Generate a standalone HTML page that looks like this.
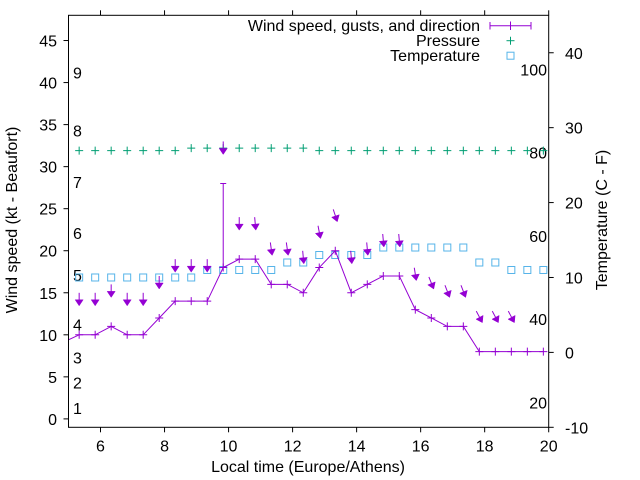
<!DOCTYPE html>
<html><head><meta charset="utf-8">
<style>
html,body{margin:0;padding:0;background:#fff;}
svg{display:block;font-family:"Liberation Sans",sans-serif;}
</style></head>
<body>
<svg id="chart" width="640" height="480" viewBox="0 0 640 480" xmlns="http://www.w3.org/2000/svg">
<g id="grid"></g>
<g id="marks"></g>
<rect x="68.5" y="15.3" width="480.2" height="412" fill="none" stroke="#000" stroke-width="1"/>
<text transform="translate(17,220) rotate(-90)" text-anchor="middle" font-size="16">Wind speed (kt - Beaufort)</text>
<text transform="translate(607,220) rotate(-90)" text-anchor="middle" font-size="16">Temperature (C - F)</text>
<text x="308" y="472" text-anchor="middle" font-size="16">Local time (Europe/Athens)</text>
<g>
<text x="480" y="31" text-anchor="end" font-size="16">Wind speed, gusts, and direction</text>
<text x="480" y="46" text-anchor="end" font-size="16">Pressure</text>
<text x="480" y="61" text-anchor="end" font-size="16">Temperature</text>
<g stroke="#9400d3" stroke-width="1">
<line x1="490" y1="25.7" x2="531" y2="25.7"/><line x1="490" y1="22" x2="490" y2="29.5"/><line x1="531" y1="22" x2="531" y2="29.5"/><line x1="510.5" y1="21.5" x2="510.5" y2="30"/>
</g>
<g stroke="#009e73" stroke-width="1"><line x1="506.5" y1="40.7" x2="514.5" y2="40.7"/><line x1="510.5" y1="36.7" x2="510.5" y2="44.7"/></g>
<rect x="507" y="52.2" width="7" height="7" fill="none" stroke="#56b4e9" stroke-width="1"/>
</g>
</svg>
<script>
const times = [5.333,5.833,6.333,6.833,7.333,7.833,8.333,8.833,9.333,9.833,10.333,10.833,11.333,11.833,12.333,12.833,13.333,13.833,14.333,14.833,15.333,15.833,16.333,16.833,17.333,17.833,18.333,18.833,19.333,19.833];
const windSpeed = [10,10,11,10,10,12,14,14,14,18,19,19,16,16,15,18,20,15,16,17,17,13,12,11,11,8,8,8,8,8];
const windGust = [null,null,null,null,null,null,null,null,null,28,null,null,null,null,null,null,null,null,null,null,null,null,null,null,null,null,null,null,null,null];
const windDir = [360,360,360,360,360,360,360,360,360,360,360,355,352,352,355,349,342,355,355,355,355,351,338,339,339,332,332,332,null,null];
const pressure = [31.9,31.9,31.9,31.9,31.9,31.9,31.9,32.2,32.2,32.2,32.2,32.2,32.2,32.2,32.2,31.9,31.9,31.9,31.9,31.9,31.9,31.9,31.9,31.9,31.9,31.9,31.9,31.9,31.9,31.9];
const temperature = [10,10,10,10,10,10,10,10,11,11,11,11,11,12,12,13,13,13,13,14,14,14,14,14,14,12,12,11,11,11];
const xTicks = [6,8,10,12,14,16,18,20];
const yTicks = [0,5,10,15,20,25,30,35,40,45];
const y2Ticks = [-10,0,10,20,30,40];
const fahrenheitTicks = [20,40,60,80,100];
const beaufortLabels = ["1","2","3","4","5","6","7","8","9"];
const beaufortLevels = [1.3,4.3,7.3,11.2,17.1,22.1,28.2,34.3,41.2];

const NS="http://www.w3.org/2000/svg";
const L=68.5,R=548.7,T=15.3,B=427.3;
const X=h=>L+(h-5)*(R-L)/15;
const Y=v=>B-(v+1)*(B-T)/49;
const Y2=c=>B-(c+10)*(B-T)/55;
function mk(tag,attrs,parent){const e=document.createElementNS(NS,tag);for(const k in attrs)e.setAttribute(k,attrs[k]);parent.appendChild(e);return e;}
const svg=document.getElementById('chart');
const g=document.getElementById('grid');
const m=document.getElementById('marks');

xTicks.forEach(h=>{
  const x=X(h);
  let t=mk('line',{x1:x,y1:B,x2:x,y2:B+5,stroke:'#000'},g);
  
  
  t=mk('line',{x1:x,y1:T,x2:x,y2:T-5,stroke:'#000'},g);
  
  
  const tx=mk('text',{x:x,y:B+24,'text-anchor':'middle','font-size':'16'},g);
  tx.textContent=h;
  
  
});
yTicks.forEach(v=>{
  const y=Y(v);
  const t=mk('line',{x1:L-5,y1:y,x2:L,y2:y,stroke:'#000'},g);
  
  
  const tx=mk('text',{x:57,y:y+6,'text-anchor':'end','font-size':'16'},g);
  tx.textContent=v;
  
  
});
y2Ticks.forEach(c=>{
  const y=Y2(c);
  const t=mk('line',{x1:R,y1:y,x2:R+5,y2:y,stroke:'#000'},g);
  
  
  const tx=mk('text',{x:565,y:y+6,'text-anchor':'start','font-size':'16'},g);
  tx.textContent=c;
  
  
});
fahrenheitTicks.forEach(f=>{
  const y=Y2((f-32)*5/9);
  const tx=mk('text',{x:547,y:y+6,'text-anchor':'end','font-size':'16'},g);
  tx.textContent=f;
  
  
});
beaufortLabels.forEach((b,i)=>{
  const tx=mk('text',{x:73,y:Y(beaufortLevels[i])+6,'font-size':'16'},g);
  tx.textContent=b;
  
  
});

times.forEach((h,i)=>{
  const x=X(h),y=Y(pressure[i]);
  const p=mk('path',{d:`M${x-4},${y}H${x+4}M${x},${y-4}V${y+4}`,stroke:'#009e73','stroke-width':1,fill:'none'},m);
  
  
});
times.forEach((h,i)=>{
  const x=X(h),y=Y2(temperature[i]);
  const r=mk('rect',{x:x-3.5,y:y-3.5,width:7,height:7,stroke:'#56b4e9','stroke-width':1,fill:'none'},m);
  
  
});
const line=mk('polyline',{points:times.map((h,i)=>X(h)+','+Y(windSpeed[i])).join(' '),fill:'none',stroke:'#9400d3','stroke-width':1},m);


const lead=mk('line',{x1:L,y1:Y(windSpeed[0]-0.6),x2:X(times[0]),y2:Y(windSpeed[0]),stroke:'#9400d3'},m);


times.forEach((h,i)=>{
  const x=X(h),y=Y(windSpeed[i]);
  const p=mk('path',{d:`M${x-4},${y}H${x+4}M${x},${y-4}V${y+4}`,stroke:'#9400d3','stroke-width':1,fill:'none'},m);
  
  
  if(windGust[i]!=null){
    const gy=Y(windGust[i]);
    const e=mk('path',{d:`M${x},${y}V${gy}M${x-3},${gy}H${x+3}`,stroke:'#9400d3','stroke-width':1,fill:'none'},m);
    
    
  }
  if(windDir[i]!=null){
    const lvl=(windGust[i]!=null?windGust[i]:windSpeed[i])+3.45;
    const tipY=Y(lvl);
    const th=(360-windDir[i])*Math.PI/180;
    const len=13;
    const dx=Math.sin(th),dy=Math.cos(th);
    const tipX=x+dx*len/2;
    const tx0=tipX-dx*len,ty0=tipY-dy*len;
    const hb=6,hw=4;
    const bx=tipX-dx*hb,by=tipY-dy*hb;
    const px=-dy,py=dx;
    const a=mk('g',{},m);
    
    
    mk('line',{x1:tx0,y1:ty0,x2:bx,y2:by,stroke:'#9400d3','stroke-width':1},a);
    mk('polygon',{points:`${tipX},${tipY} ${bx+px*hw},${by+py*hw} ${bx-px*hw},${by-py*hw}`,fill:'#9400d3',stroke:'#9400d3','stroke-width':0.5},a);
  }
});
</script>
</body></html>
